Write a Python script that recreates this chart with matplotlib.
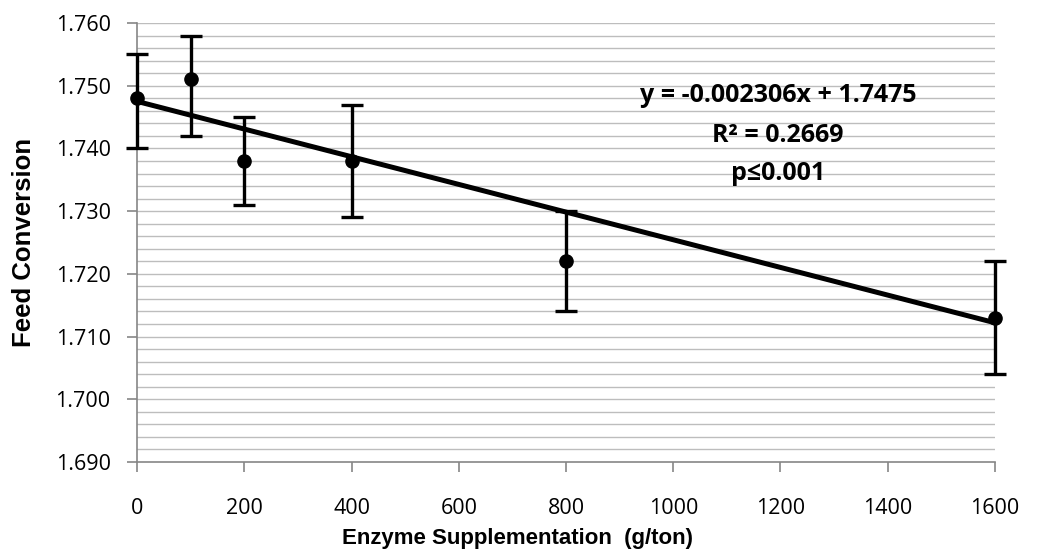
import numpy as np
import matplotlib
matplotlib.use("Agg")
import matplotlib.pyplot as plt
from matplotlib.ticker import MultipleLocator, FormatStrFormatter

# dados
enzyme = [0, 100, 200, 400, 800, 1600]
feed_conv = [1.748, 1.751, 1.738, 1.738, 1.722, 1.713]
err_low = [0.008, 0.009, 0.007, 0.009, 0.008, 0.009]
err_high = [0.007, 0.007, 0.007, 0.009, 0.008, 0.009]

trend_x = [0, 1600]
trend_y = [1.7475, 1.7122]

eq_lines = ["y = -0.002306x + 1.7475", "R\u00b2 = 0.2669", "p\u22640.001"]
eq_base = [0.820, 0.729, 0.642]

fig = plt.figure(figsize=(10.5, 5.59), dpi=100)
ax = fig.add_axes([0.1305, 0.1735, 0.8171, 0.7854])

# linhas de grade a cada 0.002
for gy in np.arange(1.692, 1.7601, 0.002):
    ax.axhline(gy, color="#bdbdbd", lw=1.0, zorder=0)

ax.plot(trend_x, trend_y, color="black", lw=3.6, solid_capstyle="butt", zorder=3)
ax.errorbar(enzyme, feed_conv, yerr=[err_low, err_high], fmt="o", color="black",
            ms=9.5, elinewidth=2.4, capsize=8, capthick=2.4, zorder=4, clip_on=False)

ax.set_xlim(0, 1600)
ax.set_ylim(1.690, 1.760)
ax.xaxis.set_major_locator(MultipleLocator(200))
ax.yaxis.set_major_locator(MultipleLocator(0.010))
ax.yaxis.set_major_formatter(FormatStrFormatter("%.3f"))

for s in ["top", "right"]:
    ax.spines[s].set_visible(False)
for s in ["left", "bottom"]:
    ax.spines[s].set_color("#868686")
    ax.spines[s].set_linewidth(1.2)

ax.tick_params(axis="y", direction="out", length=7, width=1.2, color="#868686",
               labelsize=15.5, pad=12)
ax.tick_params(axis="x", direction="out", length=7, width=1.2, color="#868686",
               labelsize=15.5, pad=19)
for lab in ax.get_xticklabels() + ax.get_yticklabels():
    lab.set_fontfamily("Open Sans")

ax.set_xlabel("Enzyme Supplementation  (g/ton)", fontsize=16, fontweight="bold",
              family="Liberation Sans")
ax.set_ylabel("Feed Conversion", fontsize=18.5, fontweight="bold",
              family="Liberation Sans")
ax.xaxis.set_label_coords(0.444, -0.150)
ax.yaxis.set_label_coords(-0.118, 0.5)

for txt, yb in zip(eq_lines, eq_base):
    ax.text(0.747, yb, txt, transform=ax.transAxes, ha="center", va="baseline",
            fontsize=18, fontweight="bold", family="Open Sans", zorder=5)

fig.savefig("out.png", dpi=100)
